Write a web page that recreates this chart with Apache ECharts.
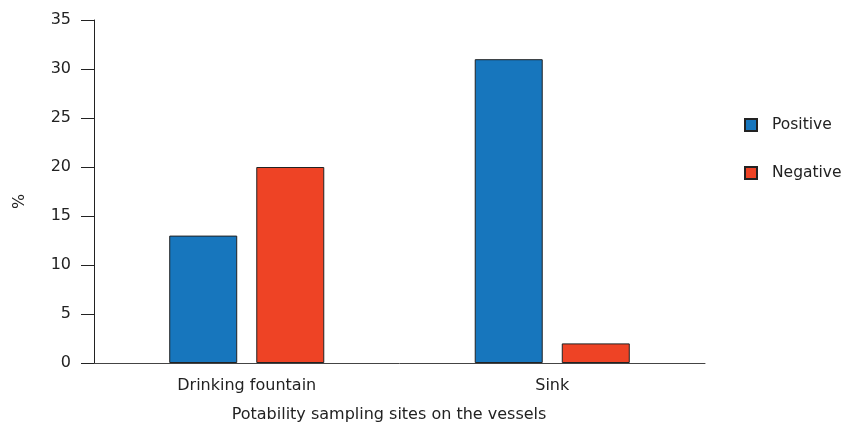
<!DOCTYPE html>
<html>
<head>
<meta charset="utf-8">
<script src="https://cdn.jsdelivr.net/npm/echarts@6/dist/echarts.min.js"></script>
<style>html,body{margin:0;padding:0;background:#fff;}#c{width:845px;height:446px;}</style>
</head>
<body>
<div id="c"></div>
<script>
var categories = ['Drinking fountain', 'Sink'];
var positive = [13, 31];
var negative = [20, 2];
var yTicks = [0, 5, 10, 15, 20, 25, 30, 35];

var font = 'DejaVu Sans';
var fs = 16;
var chart = echarts.init(document.getElementById('c'));
chart.setOption({
  animation: false,
  textStyle: { fontFamily: font },
  grid: { left: 94, right: 140, top: 20, bottom: 83 },
  legend: {
    orient: 'vertical', left: 744, top: 117, padding: 0, itemWidth: 12, itemHeight: 12, itemGap: 32,
    icon: 'rect',
    textStyle: { fontFamily: font, fontSize: 15.5, color: '#222', padding: [0, 0, 0, 10] },
    data: ['Positive', 'Negative']
  },
  xAxis: {
    type: 'category', data: categories,
    name: 'Potability sampling sites on the vessels', nameLocation: 'middle', nameGap: 44,
    nameTextStyle: { fontFamily: font, fontSize: fs, color: '#222', padding: [0, 21, 0, 0] },
    axisLine: { lineStyle: { color: '#444', width: 1 } },
    axisTick: { show: false },
    axisLabel: { fontFamily: font, fontSize: fs, color: '#222', margin: 15 }
  },
  yAxis: {
    type: 'value', min: yTicks[0], max: yTicks[yTicks.length - 1], interval: 5,
    name: '%', nameLocation: 'middle', nameGap: 66, nameRotate: 90,
    nameTextStyle: { fontFamily: font, fontSize: fs, color: '#222', padding: [0, 20, 0, 0] },
    axisLine: { show: true, lineStyle: { color: '#222', width: 1 } },
    axisTick: { show: true, length: 13, lineStyle: { color: '#222' } },
    splitLine: { show: false },
    axisLabel: { fontFamily: font, fontSize: fs, color: '#222', margin: 23 }
  },
  series: [
    { name: 'Positive', type: 'bar', data: positive, barWidth: 68, barGap: '28%',
      itemStyle: { color: '#1776BD', borderColor: '#222', borderWidth: 1 } },
    { name: 'Negative', type: 'bar', data: negative, barWidth: 68,
      itemStyle: { color: '#EE4325', borderColor: '#222', borderWidth: 1 } }
  ]
});
</script>
</body>
</html>
